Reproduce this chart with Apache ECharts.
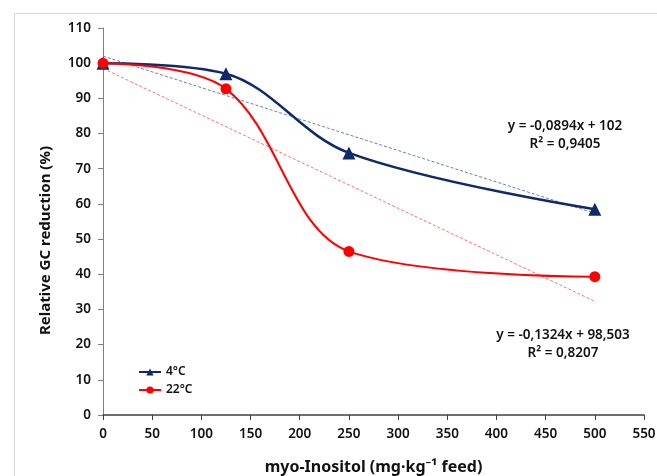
<!DOCTYPE html>
<html>
<head>
<meta charset="utf-8">
<script src="https://cdn.jsdelivr.net/npm/echarts@6/dist/echarts.min.js"></script>
<style>
html,body{margin:0;padding:0;background:#fff;}
#chart{width:657px;height:476px;}
</style>
</head>
<body>
<div id="chart"></div>
<script>
const doses = [0, 125, 250, 500];
const cold4 = [100, 97, 74.5, 58.5];
const warm22 = [100, 92.7, 46.5, 39.3];
const trendX = [0, 500];
const trend4 = [102, 57.3];
const trend22 = [98.5, 32.3];
const eq4 = ['y = -0,0894x + 102', 'R² = 0,9405'];
const eq22 = ['y = -0,1324x + 98,503', 'R² = 0,8207'];
const xTicks = [0, 550, 50];
const yTicks = [0, 110, 10];

const pairs = (xs, ys) => xs.map((x, i) => [x, ys[i]]);
const FONT = 'Noto Sans';
const chart = echarts.init(document.getElementById('chart'));
chart.setOption({
  animation: false,
  backgroundColor: '#fff',
  textStyle: { fontFamily: FONT },
  grid: { left: 103, right: 13, top: 28, bottom: 61, outerBoundsMode: 'none', containLabel: false },
  graphic: [
    { type: 'rect', left: 12, top: 11, shape: { width: 660, height: 480 }, style: { fill: 'none', stroke: '#d9d9d9', lineWidth: 1 } },
    { type: 'text', x: 565, y: 135, style: { text: eq4.join('\n'), fontFamily: FONT, fontSize: 13.5, fontWeight: 600, fill: '#111', align: 'center', verticalAlign: 'middle', lineHeight: 18 } },
    { type: 'text', x: 563, y: 344, style: { text: eq22.join('\n'), fontFamily: FONT, fontSize: 13.5, fontWeight: 600, fill: '#111', align: 'center', verticalAlign: 'middle', lineHeight: 18 } }
  ],
  legend: {
    data: ['4°C', '22°C'],
    orient: 'vertical',
    left: 133, top: 361,
    itemWidth: 22, itemHeight: 9, itemGap: 6,
    textStyle: { fontFamily: FONT, fontSize: 12, fontWeight: 600, color: '#111' }
  },
  xAxis: {
    type: 'value', min: xTicks[0], max: xTicks[1], interval: xTicks[2],
    name: 'myo-Inositol (mg·kg⁻¹ feed)', nameLocation: 'middle', nameGap: 44,
    nameTextStyle: { fontFamily: FONT, fontSize: 16, fontWeight: 'bold', color: '#111' },
    axisLine: { lineStyle: { color: '#404040', width: 1.5 } },
    axisTick: { show: true, length: 5, lineStyle: { color: '#404040' } },
    axisLabel: { fontFamily: FONT, fontSize: 13.5, fontWeight: 600, color: '#111', margin: 12 },
    splitLine: { show: false }
  },
  yAxis: {
    type: 'value', min: yTicks[0], max: yTicks[1], interval: yTicks[2],
    name: 'Relative GC reduction (%)', nameLocation: 'middle', nameGap: 50,
    nameTextStyle: { fontFamily: FONT, fontSize: 15, fontWeight: 'bold', color: '#111', padding: [0, 38, 0, 0] },
    axisLine: { show: true, lineStyle: { color: '#808080', width: 1 } },
    axisTick: { show: true, length: 5, lineStyle: { color: '#808080' } },
    axisLabel: { fontFamily: FONT, fontSize: 13.5, fontWeight: 600, color: '#111', margin: 12 },
    splitLine: { show: false }
  },
  series: [
    { name: 'trend4', type: 'line', data: pairs(trendX, trend4), symbol: 'none', silent: true,
      lineStyle: { color: '#6a7fae', width: 1, type: [3, 2] }, z: 1 },
    { name: 'trend22', type: 'line', data: pairs(trendX, trend22), symbol: 'none', silent: true,
      lineStyle: { color: '#ff7070', width: 1, type: [3, 2] }, z: 1 },
    { name: '4°C', type: 'line', data: pairs(doses, cold4), smooth: 0.35,
      symbol: 'triangle', symbolSize: 13,
      lineStyle: { color: '#0e2a6b', width: 2.5 }, itemStyle: { color: '#0e2a6b' }, z: 3 },
    { name: '22°C', type: 'line', data: pairs(doses, warm22), smooth: 0.35,
      symbol: 'circle', symbolSize: 11,
      lineStyle: { color: '#ff0000', width: 2 }, itemStyle: { color: '#ff0000' }, z: 4 }
  ]
});
</script>
</body>
</html>
